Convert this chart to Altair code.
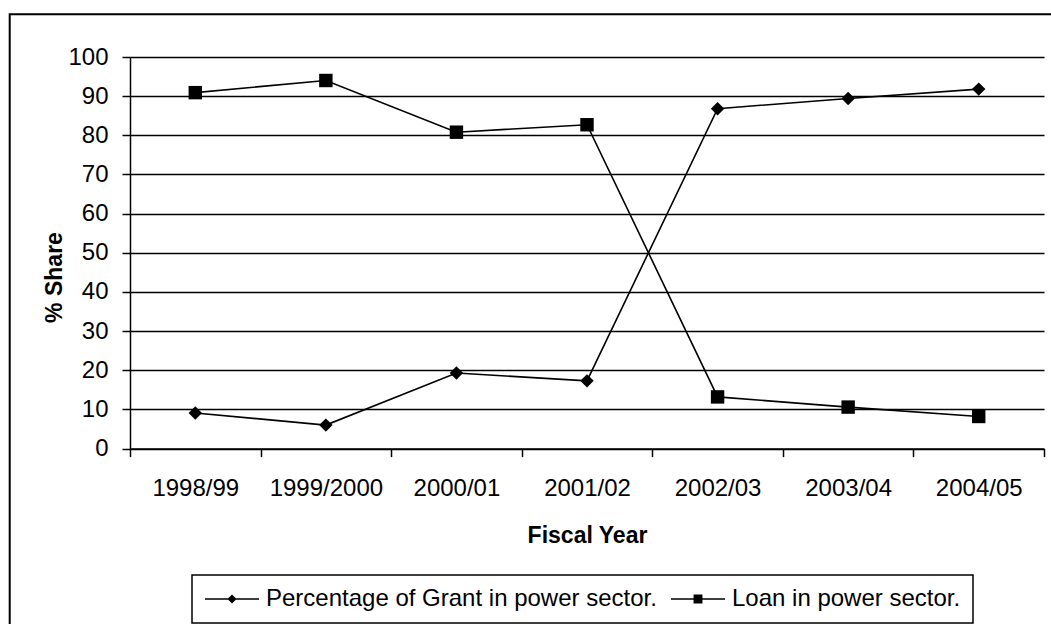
import altair as alt
import pandas as pd

# Fiscal years and the two complementary shares (percent of power-sector aid)
years = ["1998/99", "1999/2000", "2000/01", "2001/02", "2002/03", "2003/04", "2004/05"]
grant_share = [9.1, 6.0, 19.3, 17.3, 86.8, 89.4, 91.8]
loan_share = [90.9, 94.0, 80.8, 82.7, 13.2, 10.6, 8.2]
series_names = ["Percentage of Grant in power sector.", "Loan in power sector."]
series_shapes = ["diamond", "square"]
y_ticks = list(range(0, 101, 10))

rows = []
for name, vals in zip(series_names, [grant_share, loan_share]):
    for yr, v in zip(years, vals):
        rows.append({"year": yr, "series": name, "share": v})
df = pd.DataFrame(rows)

W, H = 914, 391.6
FONT = "Liberation Sans"

# legend glyphs: a thin bar (the line) with the series marker on it, fill only
GRANT_GLYPH = "M-1,-0.028H1V0.028H-1ZM-0.17,0L0,-0.17L0.17,0L0,0.17Z"
LOAN_GLYPH = "M-1,-0.028H1V0.028H-1ZM-0.165,-0.165H0.165V0.165H-0.165Z"

x_enc = alt.X(
    "year:N",
    sort=years,
    scale=alt.Scale(type="band", paddingInner=0, paddingOuter=0),
    axis=alt.Axis(
        title="Fiscal Year",
        tickBand="extent",
        labelAngle=0,
        labelBaseline="alphabetic",
        labelPadding=38.7,
        grid=False,
        titleX=W / 2,
        titleY=93.7,
        titleAlign="center",
        titleBaseline="alphabetic",
    ),
)
y_enc = alt.Y(
    "share:Q",
    scale=alt.Scale(domain=[0, 100], nice=False),
    axis=alt.Axis(
        values=y_ticks,
        title="% Share",
        grid=True,
        labelPadding=14,
        labelBaseline="middle",
        titleAngle=270,
        titleX=-76,
        titleY=220,
        titleAlign="center",
        titleBaseline="middle",
    ),
)

frame = (
    alt.Chart(alt.Data(values=[{"k": 1}]))
    .mark_rect(fillOpacity=0, stroke="black", strokeWidth=2)
    .encode(
        x=alt.value(-120.3),
        x2=alt.value(980),
        y=alt.value(-42.7),
        y2=alt.value(620),
    )
)

lines = (
    alt.Chart(df)
    .mark_line(color="black", strokeWidth=1.6)
    .encode(x=x_enc, y=y_enc, detail="series:N")
)

points = (
    alt.Chart(df)
    .mark_point(filled=True, color="black", opacity=1, size=180)
    .encode(
        x=x_enc,
        y=y_enc,
        shape=alt.Shape(
            "series:N",
            scale=alt.Scale(domain=series_names, range=series_shapes),
            legend=None,
        ),
    )
)

# key layer: draws no marks itself, only supplies the legend entries
key = (
    alt.Chart(df)
    .transform_filter("false")
    .mark_point(filled=True, color="black", opacity=1)
    .encode(
        x=x_enc,
        y=y_enc,
        shape=alt.Shape(
            "series:N",
            scale=alt.Scale(domain=series_names, range=[GRANT_GLYPH, LOAN_GLYPH]),
            legend=alt.Legend(
                title=None,
                orient="none",
                legendX=62,
                legendY=518,
                direction="horizontal",
                columns=2,
                columnPadding=13,
                padding=12,
                clipHeight=24,
                symbolSize=2916,
                symbolFillColor="black",
                symbolOpacity=1,
                labelOffset=6,
                labelFontSize=24,
                labelFont=FONT,
                labelColor="black",
                labelBaseline="middle",
                strokeColor="black",
                fillColor="white",
                labelLimit=600,
            ),
        ),
    )
)

chart = (
    alt.layer(frame, lines, points, key)
    .resolve_scale(shape="independent")
    .properties(
        width=W,
        height=H,
        autosize=alt.AutoSizeParams(type="none"),
        padding={"left": 130, "top": 57, "right": 7, "bottom": 175.4},
        background="white",
    )
    .configure_view(stroke="transparent")
    .configure_legend(strokeWidth=1.5)
    .configure_axis(
        domainColor="black",
        domainWidth=1.5,
        tickColor="black",
        tickWidth=1.5,
        tickSize=8,
        labelFont=FONT,
        labelFontSize=24,
        labelColor="black",
        titleFont=FONT,
        titleFontSize=23,
        titleFontWeight="bold",
        titleColor="black",
        gridColor="black",
        gridWidth=1.5,
        gridOpacity=1,
    )
)

chart.save("out.html", embed_options={"renderer": "svg", "actions": False})
